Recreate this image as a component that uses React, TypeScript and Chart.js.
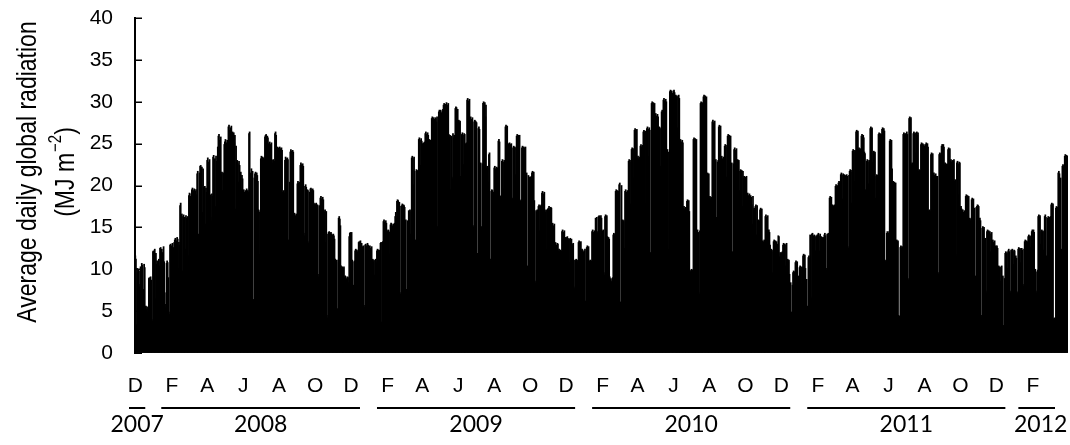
import { useEffect, useRef } from 'react';
import { Chart, registerables } from 'chart.js';

Chart.register(...registerables);

// Daily global radiation (MJ m-2), one value per day from 1 Dec 2007 to 31 Mar 2012.
const rad2007 = [
  /* Dec */ 11.6, 11.2, 3.4, 10.1, 9.6, 10.0, 8.2, 7.9, 9.8, 10.3, 9.4, 10.7, 10.5, 7.3, 7.6, 10.6, 10.2, 5.4, 5.6, 5.2, 5.5, 4.9, 5.3, 8.9, 9.0, 8.4, 9.1, 8.7, 4.0, 3.8, 12.1,
];

const rad2008 = [
  /* Jan */ 12.2, 11.8, 12.4, 6.5, 11.9, 10.6, 11.0, 9.2, 10.8, 11.2, 10.4, 12.5, 12.6, 8.3, 12.4, 12.0, 11.5, 12.7, 10.9, 7.2, 5.4, 5.8, 10.7, 11.0, 10.8, 9.0, 4.9, 4.6, 12.9, 13.0, 12.4,
  /* Feb */ 12.8, 13.1, 8.9, 12.6, 13.2, 13.5, 13.7, 11.2, 13.4, 13.8, 13.6, 10.1, 13.2, 12.9, 17.6, 17.9, 16.4, 16.6, 9.8, 16.3, 16.5, 15.9, 16.2, 12.4, 16.4, 16.1, 14.9, 16.3, 11.6,
  /* Mar */ 18.8, 19.1, 14.6, 18.7, 19.0, 19.5, 19.7, 17.2, 19.4, 19.6, 11.8, 19.3, 19.5, 18.9, 21.4, 21.7, 14.2, 13.9, 21.5, 22.3, 22.4, 20.1, 22.2, 16.8, 22.0, 19.8, 19.6, 19.9, 15.4, 19.7, 19.2,
  /* Apr */ 23.0, 23.3, 20.4, 22.8, 23.1, 18.9, 16.2, 15.8, 19.0, 18.7, 23.4, 23.6, 21.0, 23.2, 17.5, 23.5, 22.9, 21.8, 24.6, 25.9, 26.1, 25.4, 12.8, 25.8, 21.3, 21.6, 19.4, 21.5, 21.2, 24.9,
  /* May */ 25.2, 25.5, 18.6, 25.1, 25.4, 24.8, 27.0, 27.2, 26.6, 13.5, 26.9, 27.1, 26.2, 26.4, 24.8, 26.3, 25.1, 26.0, 17.2, 24.7, 22.8, 23.0, 22.6, 20.4, 22.9, 22.4, 21.4, 21.6, 19.5, 21.2, 20.8,
  /* Jun */ 19.3, 19.5, 19.2, 15.6, 19.4, 19.1, 19.6, 18.3, 19.4, 19.2, 26.2, 26.4, 21.5, 20.8, 22.0, 20.3, 21.7, 6.4, 6.1, 20.9, 21.4, 21.6, 18.7, 21.5, 21.2, 20.5, 17.1, 16.8, 11.8, 17.0,
  /* Jul */ 23.2, 23.5, 14.3, 23.4, 22.8, 23.3, 23.1, 25.8, 26.0, 26.1, 18.4, 25.9, 25.7, 25.0, 24.8, 25.2, 17.9, 24.9, 25.1, 23.0, 22.7, 23.1, 15.6, 22.9, 26.2, 26.4, 26.0, 24.4, 24.6, 19.8, 24.5,
  /* Aug */ 24.3, 24.6, 24.4, 20.1, 24.5, 24.2, 19.2, 18.8, 19.4, 19.1, 23.0, 23.4, 23.2, 18.2, 23.3, 23.1, 13.5, 13.2, 20.4, 24.0, 24.3, 24.1, 21.9, 24.2, 24.0, 16.5, 16.7, 15.2, 16.4, 16.6, 16.3,
  /* Sep */ 20.2, 20.5, 20.3, 16.0, 20.4, 22.4, 22.7, 22.5, 18.1, 22.6, 22.3, 14.3, 14.0, 19.9, 20.1, 19.8, 19.3, 19.5, 19.4, 13.1, 13.3, 19.2, 19.6, 19.7, 19.5, 15.3, 19.6, 19.4, 17.9, 17.7,
  /* Oct */ 17.8, 17.6, 17.9, 17.5, 17.7, 9.4, 9.1, 17.6, 17.4, 18.5, 18.7, 18.4, 16.1, 18.6, 18.3, 17.0, 16.8, 17.1, 13.2, 16.9, 4.5, 4.2, 14.2, 14.4, 14.5, 12.1, 14.3, 14.4, 14.2, 11.0, 14.1,
  /* Nov */ 14.2, 14.0, 13.6, 11.2, 11.0, 10.8, 11.1, 5.3, 5.1, 16.1, 16.3, 16.0, 15.2, 10.4, 10.2, 10.3, 9.8, 10.1, 10.3, 9.0, 9.2, 9.1, 7.6, 8.9, 9.1, 9.0, 8.4, 13.9, 14.3, 14.4,
  /* Dec */ 14.3, 14.4, 11.1, 10.9, 8.1, 7.8, 11.0, 12.2, 12.4, 12.3, 10.6, 12.1, 12.3, 13.2, 13.3, 12.9, 13.4, 11.6, 13.1, 12.7, 12.6, 12.8, 5.7, 5.5, 12.9, 13.0, 12.8, 10.4, 13.1, 12.9, 12.7,
];

const rad2009 = [
  /* Jan */ 12.6, 12.8, 12.5, 9.6, 12.7, 11.0, 11.2, 10.9, 11.1, 9.3, 11.0, 11.2, 10.8, 12.2, 12.4, 12.3, 7.1, 12.1, 12.3, 13.1, 13.2, 3.7, 3.5, 13.3, 15.7, 15.9, 15.6, 13.9, 15.8, 15.5, 14.6,
  /* Feb */ 14.5, 14.7, 14.6, 11.8, 14.4, 15.3, 15.5, 15.4, 15.2, 12.6, 15.4, 15.1, 15.5, 16.3, 16.8, 16.1, 18.1, 18.3, 18.2, 17.9, 18.0, 7.2, 7.0, 17.5, 17.6, 17.8, 17.4, 17.7,
  /* Mar */ 17.6, 17.4, 15.7, 15.9, 7.6, 7.4, 15.8, 15.6, 17.0, 16.8, 17.1, 14.2, 17.0, 23.3, 23.5, 23.2, 20.1, 23.4, 21.7, 13.5, 13.3, 21.9, 21.6, 21.8, 19.0, 25.5, 25.7, 25.4, 22.4, 25.6, 25.3,
  /* Apr */ 25.0, 24.8, 25.1, 18.7, 25.2, 26.2, 26.4, 26.1, 21.2, 26.3, 26.0, 25.3, 25.5, 20.6, 25.4, 25.2, 28.0, 28.2, 27.8, 28.1, 24.3, 27.9, 28.1, 28.0, 27.6, 28.2, 15.1, 14.8, 28.8, 29.0,
  /* May */ 28.8, 29.0, 28.7, 24.5, 28.9, 29.1, 29.6, 29.8, 29.5, 29.7, 26.4, 29.9, 29.6, 29.4, 29.8, 26.1, 25.8, 26.0, 19.5, 25.9, 21.0, 20.8, 26.2, 25.7, 26.0, 24.1, 29.2, 29.4, 29.3, 27.5, 29.1,
  /* Jun */ 27.6, 27.8, 27.5, 27.7, 21.1, 20.8, 26.1, 26.3, 26.0, 22.5, 26.2, 26.1, 25.0, 24.8, 25.1, 30.2, 30.4, 30.1, 27.4, 30.3, 28.0, 28.2, 27.9, 23.6, 28.1, 15.2, 15.0, 27.6, 27.8, 27.7,
  /* Jul */ 27.6, 27.5, 11.9, 11.6, 26.8, 27.0, 26.7, 22.5, 22.7, 15.1, 14.9, 22.6, 29.8, 30.0, 29.7, 29.9, 28.2, 29.6, 22.1, 22.3, 22.0, 20.4, 23.7, 23.9, 11.2, 11.0, 19.3, 19.5, 19.4, 17.6, 19.2,
  /* Aug */ 22.1, 22.3, 22.0, 16.4, 22.2, 21.9, 22.1, 25.3, 25.5, 25.2, 18.7, 18.5, 18.8, 22.9, 23.1, 22.8, 19.6, 23.0, 22.7, 27.0, 27.2, 26.9, 27.1, 22.6, 25.0, 24.8, 25.1, 20.3, 24.9, 25.0, 18.5,
  /* Sep */ 18.4, 24.5, 24.7, 24.4, 24.6, 21.3, 24.5, 25.9, 26.1, 25.8, 26.0, 22.9, 26.0, 18.2, 18.0, 18.3, 24.5, 24.7, 24.4, 24.6, 20.8, 24.5, 24.6, 21.3, 21.5, 10.4, 10.2, 21.2, 21.0, 20.9,
  /* Oct */ 21.0, 20.8, 21.1, 21.5, 21.7, 21.4, 21.6, 18.2, 8.6, 8.4, 17.0, 16.8, 17.1, 16.9, 17.5, 17.7, 14.6, 17.6, 17.4, 17.7, 19.1, 19.3, 19.0, 15.8, 19.2, 17.0, 16.8, 17.1, 12.4, 16.9, 17.2,
  /* Nov */ 17.3, 17.5, 17.2, 14.1, 17.4, 17.3, 15.3, 15.5, 15.2, 11.6, 15.4, 13.0, 13.2, 12.9, 9.8, 13.1, 13.0, 12.2, 12.4, 12.1, 12.3, 10.6, 12.2, 14.5, 14.7, 14.4, 11.2, 14.6, 13.8, 13.7,
  /* Dec */ 13.8, 13.6, 13.9, 13.7, 13.5, 13.6, 10.8, 13.7, 13.4, 13.6, 13.0, 12.8, 13.1, 7.9, 7.7, 11.1, 11.0, 11.2, 9.4, 10.9, 11.1, 13.2, 13.4, 13.1, 12.0, 13.3, 12.2, 12.4, 12.3, 9.9, 12.1,
];

const rad2010 = [
  /* Jan */ 12.2, 12.4, 6.2, 6.0, 12.6, 12.8, 12.5, 12.7, 11.0, 10.8, 11.1, 9.2, 11.0, 14.5, 14.7, 14.4, 12.3, 14.6, 14.5, 16.1, 14.6, 16.2, 14.3, 14.5, 16.3, 16.4, 16.2, 13.9, 16.4, 16.1, 14.6,
  /* Feb */ 14.5, 14.7, 9.6, 9.3, 16.3, 16.5, 16.2, 16.4, 13.9, 13.7, 13.8, 13.6, 9.1, 8.7, 8.9, 8.5, 8.6, 9.0, 14.1, 14.3, 14.0, 14.2, 19.3, 19.5, 19.2, 19.4, 18.1, 19.3,
  /* Mar */ 20.1, 20.3, 6.1, 5.9, 20.0, 15.7, 15.9, 15.6, 15.8, 12.5, 19.3, 19.5, 19.2, 16.4, 19.4, 19.1, 22.9, 23.1, 22.8, 17.8, 23.0, 24.3, 24.5, 24.2, 20.9, 24.4, 26.6, 26.8, 26.5, 21.6, 26.7,
  /* Apr */ 23.3, 23.5, 23.2, 19.8, 23.4, 24.7, 24.9, 24.6, 22.1, 24.8, 26.4, 26.6, 26.3, 26.5, 17.9, 17.6, 26.8, 27.0, 26.7, 23.5, 26.9, 26.6, 12.0, 11.8, 29.8, 30.0, 29.7, 29.9, 27.3, 29.8,
  /* May */ 28.4, 28.6, 28.3, 24.8, 28.5, 28.2, 26.8, 27.0, 26.7, 22.3, 26.9, 28.8, 29.0, 28.7, 30.2, 30.4, 30.1, 26.5, 30.3, 30.0, 24.1, 24.3, 24.0, 12.4, 12.2, 31.2, 31.4, 31.1, 31.3, 27.9, 31.0,
  /* Jun */ 31.2, 31.4, 31.1, 30.6, 30.8, 30.5, 30.7, 26.9, 30.6, 30.8, 30.4, 25.3, 25.5, 25.2, 21.4, 25.4, 25.1, 17.3, 17.5, 17.2, 14.1, 17.4, 17.3, 18.1, 18.3, 18.0, 18.2, 16.9, 9.9, 9.7,
  /* Jul */ 9.8, 10.0, 9.7, 9.9, 25.5, 25.7, 25.4, 25.6, 23.8, 25.5, 14.5, 14.7, 14.4, 7.2, 7.0, 14.6, 29.8, 30.0, 29.7, 29.9, 26.2, 30.6, 30.8, 30.5, 30.7, 27.1, 30.6, 21.3, 21.5, 21.2, 21.4,
  /* Aug */ 18.5, 18.7, 18.4, 18.6, 18.3, 27.6, 27.8, 27.5, 24.1, 27.7, 22.9, 23.1, 16.2, 15.9, 22.8, 23.0, 27.0, 27.2, 26.9, 27.1, 23.3, 23.5, 23.2, 19.7, 23.4, 23.1, 24.7, 24.9, 24.6, 21.0, 24.8,
  /* Sep */ 25.9, 26.1, 25.8, 26.0, 22.7, 25.9, 22.5, 22.7, 12.1, 11.9, 22.6, 24.3, 24.5, 24.2, 20.9, 24.4, 22.9, 23.1, 22.8, 23.0, 19.4, 21.7, 21.9, 21.6, 21.8, 17.5, 21.7, 20.9, 21.1, 20.8,
  /* Oct */ 21.0, 20.8, 21.1, 18.9, 19.1, 18.8, 16.2, 19.0, 18.7, 18.8, 18.6, 17.7, 15.4, 18.7, 17.1, 17.3, 17.0, 17.5, 17.7, 14.1, 17.6, 15.7, 15.9, 15.6, 15.8, 17.1, 17.3, 8.8, 17.2, 13.4, 13.2,
  /* Nov */ 13.3, 13.5, 13.2, 16.3, 16.5, 16.2, 12.8, 16.4, 14.5, 14.7, 14.4, 12.9, 12.2, 12.4, 12.1, 9.6, 12.3, 13.3, 13.5, 13.2, 13.4, 10.8, 13.3, 13.0, 12.9, 14.0, 13.9, 11.5, 12.0, 11.8,
  /* Dec */ 12.0, 11.8, 12.1, 12.9, 13.1, 12.8, 13.0, 10.4, 12.9, 13.1, 11.0, 11.2, 10.9, 11.1, 9.4, 8.2, 8.4, 4.9, 4.7, 8.1, 9.6, 9.8, 9.5, 9.7, 10.8, 11.0, 10.7, 10.9, 9.0, 9.2, 8.9,
];

const rad2011 = [
  /* Jan */ 10.2, 10.4, 10.1, 8.3, 10.3, 10.2, 11.6, 11.8, 11.5, 11.7, 10.1, 8.6, 8.8, 5.6, 5.4, 11.4, 11.6, 11.3, 14.1, 6.7, 6.5, 14.2, 14.3, 14.0, 13.9, 14.1, 13.8, 12.2, 14.0, 13.9, 14.1,
  /* Feb */ 14.1, 14.3, 14.0, 12.2, 14.2, 13.7, 13.9, 13.6, 13.8, 11.9, 13.8, 14.1, 14.3, 14.0, 10.1, 9.9, 14.2, 14.1, 14.3, 14.0, 18.5, 18.7, 18.4, 18.6, 17.5, 17.7, 15.4, 17.6,
  /* Mar */ 17.5, 17.7, 19.9, 20.1, 19.8, 16.3, 20.0, 20.3, 20.5, 20.2, 20.4, 21.3, 21.5, 21.2, 18.4, 21.4, 21.1, 21.3, 21.0, 21.2, 19.6, 21.3, 21.1, 12.7, 12.5, 21.2, 21.7, 21.9, 21.6, 17.9, 21.8,
  /* Apr */ 24.1, 24.3, 24.0, 20.5, 24.2, 24.1, 26.4, 26.6, 26.3, 26.5, 24.3, 24.5, 24.2, 21.6, 24.4, 25.9, 26.1, 25.8, 26.0, 25.7, 24.0, 23.8, 19.5, 19.3, 22.9, 23.1, 22.8, 20.2, 23.0, 22.9,
  /* May */ 26.8, 27.0, 26.7, 26.9, 22.8, 23.9, 24.1, 23.8, 24.0, 18.5, 21.1, 21.3, 21.0, 21.2, 26.1, 26.3, 26.0, 26.2, 21.9, 26.1, 26.7, 26.9, 26.6, 26.8, 26.5, 11.1, 10.9, 11.0, 14.3, 14.5, 14.2,
  /* Jun */ 14.3, 14.5, 25.3, 25.5, 25.2, 25.4, 22.0, 20.3, 20.5, 20.2, 20.4, 17.1, 20.3, 13.3, 13.5, 13.2, 13.4, 4.5, 4.3, 4.4, 12.6, 12.8, 12.5, 12.7, 12.6, 26.1, 26.3, 26.0, 26.2, 26.1,
  /* Jul */ 26.2, 26.4, 26.1, 8.9, 8.7, 28.0, 28.2, 27.9, 28.1, 22.5, 22.7, 22.4, 26.2, 26.4, 26.1, 26.3, 23.9, 26.2, 26.4, 26.0, 26.3, 21.7, 21.9, 21.6, 21.8, 24.9, 25.1, 24.8, 25.0, 24.7, 24.9,
  /* Aug */ 24.7, 17.1, 24.9, 25.1, 24.8, 25.0, 24.6, 17.0, 16.8, 17.1, 16.9, 23.7, 23.9, 23.6, 23.8, 21.3, 21.5, 21.2, 18.3, 21.4, 21.1, 20.9, 21.1, 9.6, 9.4, 23.7, 23.9, 23.6, 23.8, 24.7, 24.9,
  /* Sep */ 24.7, 24.9, 24.6, 22.5, 22.7, 22.4, 19.8, 22.6, 22.5, 24.3, 24.5, 24.2, 24.4, 22.9, 23.1, 22.8, 20.1, 23.0, 22.9, 23.1, 20.5, 20.7, 11.8, 11.6, 22.7, 22.9, 22.6, 18.9, 22.8, 22.7,
  /* Oct */ 17.3, 17.5, 17.2, 16.9, 17.1, 16.8, 14.2, 17.0, 16.9, 18.7, 18.9, 18.6, 18.8, 15.1, 18.7, 15.9, 16.1, 15.8, 16.0, 18.3, 18.5, 18.2, 18.4, 16.7, 17.3, 9.2, 9.0, 17.4, 17.5, 17.7, 17.6,
  /* Nov */ 17.5, 15.9, 16.1, 15.8, 4.5, 4.3, 14.9, 15.1, 14.8, 15.0, 13.5, 13.7, 7.4, 7.2, 14.5, 14.7, 14.4, 14.6, 14.3, 14.5, 12.1, 14.2, 14.4, 13.3, 13.5, 13.2, 10.9, 13.4, 12.6, 12.8,
  /* Dec */ 12.6, 12.8, 12.5, 10.2, 10.4, 10.1, 10.3, 8.6, 10.2, 10.4, 9.0, 9.2, 3.3, 3.1, 8.9, 11.9, 12.1, 11.8, 12.0, 10.1, 12.2, 12.4, 12.1, 7.4, 7.2, 12.3, 12.2, 12.4, 12.1, 10.6, 12.3,
];

const rad2012 = [
  /* Jan */ 12.2, 11.4, 11.6, 11.3, 7.3, 7.1, 12.4, 12.6, 12.3, 12.5, 10.8, 12.4, 12.5, 12.3, 8.2, 8.0, 12.4, 13.3, 13.5, 13.2, 13.4, 11.7, 13.3, 13.9, 14.1, 13.8, 14.0, 12.6, 13.9, 14.5, 14.7,
  /* Feb */ 14.5, 14.7, 14.4, 9.8, 10.0, 7.4, 7.2, 9.7, 9.9, 16.3, 16.5, 16.2, 16.4, 13.0, 14.5, 14.7, 14.4, 14.6, 12.3, 14.5, 16.3, 16.5, 16.2, 11.6, 11.4, 16.1, 16.3, 16.0, 16.2,
  /* Mar */ 16.1, 16.3, 17.7, 17.9, 17.6, 17.8, 4.1, 3.9, 4.2, 4.0, 17.3, 17.5, 17.2, 17.4, 21.5, 21.7, 21.4, 20.7, 20.9, 12.4, 12.2, 22.3, 22.5, 22.2, 22.4, 23.5, 23.7, 23.4, 23.6, 23.3, 23.5,
];

const dailyRadiation = [...rad2007, ...rad2008, ...rad2009, ...rad2010, ...rad2011, ...rad2012];

// One category per calendar day, starting 1 December 2007.
const dayDates = dailyRadiation.map((_, i) => new Date(2007, 11, 1 + i));
const dayLabels = dayDates.map(
  (d) => `${d.getFullYear()}-${String(d.getMonth() + 1).padStart(2, '0')}-${String(d.getDate()).padStart(2, '0')}`
);

const monthLetters = ['J', 'F', 'M', 'A', 'M', 'J', 'J', 'A', 'S', 'O', 'N', 'D'];
// Every second month is labelled: Dec, Feb, Apr, Jun, Aug, Oct.
const monthTickDays = dayDates
  .map((d, i) => (d.getDate() === 1 && d.getMonth() % 2 === 1 ? i : -1))
  .filter((i) => i >= 0);

const yearLabels = ['2007', '2008', '2009', '2010', '2011', '2012'];
const yTitleLines = ['Average daily global radiation', '(MJ m', '\u22122', ')'];

const AXIS_FONT = '"Liberation Sans", Arial, sans-serif';
const YEAR_FONT = 'Lato, "Open Sans", sans-serif';

const decorPlugin = {
  id: 'decor',
  afterDraw(chart: any) {
    const { ctx, chartArea } = chart;
    const xs = chart.scales.x;
    const ys = chart.scales.y;
    ctx.save();
    ctx.fillStyle = '#000';
    ctx.strokeStyle = '#000';

    // tick marks pointing into the plot
    ctx.lineWidth = 1.5;
    ys.ticks.forEach((t: any) => {
      const y = Math.round(ys.getPixelForValue(t.value)) + 0.25;
      ctx.beginPath();
      ctx.moveTo(chartArea.left, y);
      ctx.lineTo(chartArea.left + 7, y);
      ctx.stroke();
    });

    // rotated y-axis title on two lines (glyphs drawn a little taller than wide)
    const cy = 172;
    const stretch = 1.2;
    ctx.save();
    ctx.translate(28, cy);
    ctx.rotate(-Math.PI / 2);
    ctx.scale(1, stretch);
    ctx.font = `23px ${AXIS_FONT}`;
    ctx.textAlign = 'center';
    ctx.textBaseline = 'middle';
    ctx.fillText(yTitleLines[0], 0, 0);
    ctx.restore();

    ctx.save();
    ctx.translate(66, cy);
    ctx.rotate(-Math.PI / 2);
    ctx.scale(1, stretch);
    ctx.textBaseline = 'middle';
    ctx.textAlign = 'left';
    ctx.font = `23px ${AXIS_FONT}`;
    const w1 = ctx.measureText(yTitleLines[1]).width;
    const w3 = ctx.measureText(yTitleLines[3]).width;
    ctx.font = `15px ${AXIS_FONT}`;
    const w2 = ctx.measureText(yTitleLines[2]).width + 1;
    let x0 = -(w1 + w2 + w3) / 2;
    ctx.font = `23px ${AXIS_FONT}`;
    ctx.fillText(yTitleLines[1], x0, 0);
    x0 += w1;
    ctx.font = `15px ${AXIS_FONT}`;
    ctx.fillText(yTitleLines[2], x0 + 1, -8);
    x0 += w2;
    ctx.font = `23px ${AXIS_FONT}`;
    ctx.fillText(yTitleLines[3], x0, 0);
    ctx.restore();

    // year spans: underline and label beneath the month letters
    ctx.font = `23px ${YEAR_FONT}`;
    ctx.textAlign = 'center';
    ctx.textBaseline = 'middle';
    ctx.lineWidth = 2;
    yearLabels.forEach((yr, k) => {
      const first = dayLabels.findIndex((l) => l.startsWith(yr));
      let last = first;
      while (last + 1 < dayLabels.length && dayLabels[last + 1].startsWith(yr)) last++;
      const a = xs.getPixelForValue(first - 0.5);
      const b = xs.getPixelForValue(last + 0.5);
      let u0 = a + 8;
      let u1 = b - 9;
      if (k === 0) {
        u0 = a - 6;
        u1 = b - 8;
      } else if (k === yearLabels.length - 1) {
        u0 = a + 4;
        u1 = b - 13;
      }
      ctx.beginPath();
      ctx.moveTo(u0, 408);
      ctx.lineTo(u1, 408);
      ctx.stroke();
      ctx.fillText(yr, (u0 + u1) / 2 + (k === yearLabels.length - 1 ? 4 : 0), 425);
    });

    ctx.restore();
  },
};

export default function App() {
  const canvasRef = useRef<HTMLCanvasElement | null>(null);

  useEffect(() => {
    if (!canvasRef.current) return;
    const chart = new Chart(canvasRef.current, {
      type: 'bar',
      data: {
        labels: dayLabels,
        datasets: [
          {
            data: dailyRadiation,
            backgroundColor: '#000',
            borderWidth: 0,
            barThickness: 1.1,
          } as any,
        ],
      },
      options: {
        animation: false,
        responsive: true,
        maintainAspectRatio: false,
        layout: { padding: { top: 18, right: 2, left: 0, bottom: 0 } },
        plugins: {
          legend: { display: false },
          tooltip: { enabled: false },
        },
        scales: {
          x: {
            type: 'category',
            offset: true,
            grid: { display: false, drawTicks: false },
            border: { display: false },
            afterBuildTicks: (scale: any) => {
              scale.ticks = monthTickDays.map((v) => ({ value: v }));
            },
            afterFit: (scale: any) => {
              scale.height = 92;
            },
            ticks: {
              autoSkip: false,
              maxRotation: 0,
              minRotation: 0,
              padding: 21,
              color: '#000',
              font: { family: AXIS_FONT, size: 21 },
              callback: (value: any) => monthLetters[dayDates[Number(value)].getMonth()],
            },
          },
          y: {
            min: 0,
            max: 40,
            // invisible outward tick marks keep the labels clear of the axis line
            grid: {
              display: true,
              drawOnChartArea: false,
              drawTicks: true,
              tickLength: 22,
              tickColor: 'rgba(0,0,0,0)',
            },
            border: { display: true, color: '#000', width: 2 },
            afterFit: (scale: any) => {
              scale.width = 135;
            },
            ticks: {
              stepSize: 5,
              padding: 0,
              color: '#000',
              font: { family: AXIS_FONT, size: 21 },
            },
          },
        },
      },
      plugins: [decorPlugin],
    });
    return () => chart.destroy();
  }, []);

  return (
    <div style={{ position: 'fixed', left: 0, top: 0, width: 1070, height: 445, background: '#fff' }}>
      <canvas ref={canvasRef} />
    </div>
  );
}
